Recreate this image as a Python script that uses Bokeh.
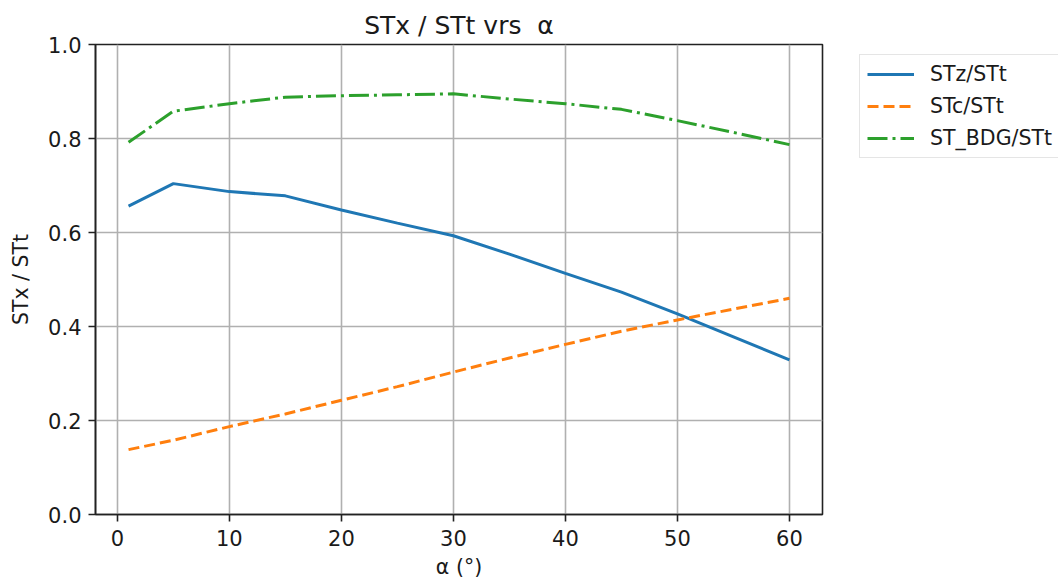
from bokeh.plotting import figure
from bokeh.layouts import row
from bokeh.models import FixedTicker, PrintfTickFormatter, Legend, LegendItem, Range1d
from bokeh.embed import file_html
from bokeh.resources import INLINE

alpha = [1, 5, 10, 15, 20, 25, 30, 35, 40, 45, 50, 55, 60]
stz_stt = [0.656, 0.704, 0.687, 0.678, 0.648, 0.620, 0.593, 0.554, 0.513, 0.473, 0.427, 0.378, 0.329]
stc_stt = [0.138, 0.158, 0.187, 0.214, 0.243, 0.272, 0.303, 0.333, 0.362, 0.390, 0.414, 0.437, 0.460]
stbdg_stt = [0.792, 0.858, 0.874, 0.888, 0.891, 0.893, 0.895, 0.884, 0.874, 0.862, 0.838, 0.813, 0.787]

series_labels = ["STz/STt", "STc/STt", "ST_BDG/STt"]
x_ticks = [0, 10, 20, 30, 40, 50, 60]
y_ticks = [0.0, 0.2, 0.4, 0.6, 0.8, 1.0]

FONT = "DejaVu Sans"
TXT = "#1a1a1a"
COLORS = ["#1f77b4", "#ff7f0e", "#2ca02c"]
DASHES = ["solid", "11 5", "20 5 3 5"]
SERIES = [stz_stt, stc_stt, stbdg_stt]

p = figure(width=830, height=581, output_backend="svg", toolbar_location=None,
           x_range=Range1d(-1.95, 62.95), y_range=Range1d(0, 1),
           min_border_left=95, min_border_right=8, min_border_top=44, min_border_bottom=66,
           title="STx / STt vrs \u00a0α")
p.background_fill_color = "white"
p.border_fill_color = "white"
p.outline_line_color = "#222222"
p.outline_line_width = 1.6

p.title.text_font = FONT
p.title.text_font_size = "25px"
p.title.text_font_style = "normal"
p.title.text_color = TXT
p.title.align = "center"

for ys, c, d in zip(SERIES, COLORS, DASHES):
    p.line(alpha, ys, line_color=c, line_width=3, line_dash=d)

for ax in (p.xaxis[0], p.yaxis[0]):
    ax.major_label_text_font = FONT
    ax.major_label_text_font_size = "21px"
    ax.major_label_text_color = TXT
    ax.axis_label_text_font = FONT
    ax.axis_label_text_font_size = "20.5px"
    ax.axis_label_text_font_style = "normal"
    ax.axis_label_text_color = TXT
    ax.axis_line_color = "#222222"
    ax.axis_line_width = 1.6
    ax.major_tick_line_color = "#222222"
    ax.major_tick_line_width = 1.6
    ax.major_tick_out = 7
    ax.major_tick_in = 0
    ax.minor_tick_line_color = None

p.xaxis.ticker = FixedTicker(ticks=x_ticks)
p.yaxis.ticker = FixedTicker(ticks=y_ticks)
p.yaxis.formatter = PrintfTickFormatter(format="%.1f")
p.xaxis.axis_label = "α (°)"
p.yaxis.axis_label = "STx / STt"
p.xaxis.major_label_standoff = 8
p.yaxis.major_label_standoff = 7
p.xaxis.axis_label_standoff = 6
p.yaxis.axis_label_standoff = 12

p.grid.grid_line_color = "#b0b0b0"
p.grid.grid_line_width = 1.6
p.xgrid.ticker = FixedTicker(ticks=x_ticks)
p.ygrid.ticker = FixedTicker(ticks=y_ticks)

# legend panel to the right of the axes (lines kept out of view; used only as legend keys)
pl = figure(width=228, height=581, output_backend="svg", toolbar_location=None,
            x_range=Range1d(1000, 1001), y_range=Range1d(0, 1),
            x_axis_type=None, y_axis_type=None,
            min_border_left=0, min_border_right=0, min_border_top=0, min_border_bottom=0)
pl.outline_line_color = None
pl.grid.visible = False
pl.background_fill_color = "white"
pl.border_fill_color = "white"

keys = []
for ys, c, d in zip(SERIES, COLORS, DASHES):
    keys.append(pl.line(alpha, ys, line_color=c, line_width=3, line_dash=d))

legend = Legend(items=[LegendItem(label=lab, renderers=[r]) for lab, r in zip(series_labels, keys)],
                location=(29, 356))
legend.label_text_font = FONT
legend.label_text_font_size = "20.5px"
legend.label_text_color = TXT
legend.glyph_width = 47
legend.glyph_height = 24
legend.label_height = 24
legend.spacing = 8
legend.padding = 7
legend.margin = 0
legend.label_standoff = 16
legend.border_line_color = "#cccccc"
legend.border_line_width = 1.2
legend.background_fill_alpha = 0.9
pl.add_layout(legend, "center")

layout = row(p, pl)
open("out.html", "w").write(file_html(layout, INLINE))
